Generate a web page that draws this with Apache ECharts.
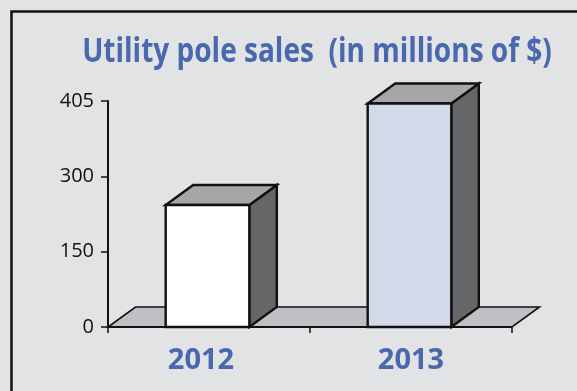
<!DOCTYPE html>
<html>
<head>
<meta charset="utf-8">
<title>Utility pole sales</title>
<script src="https://cdn.jsdelivr.net/npm/echarts@6/dist/echarts.min.js"></script>
<style>
  html, body { margin: 0; padding: 0; background: #e2e3e5; }
  #chart { width: 577px; height: 391px; }
</style>
</head>
<body>
<div id="chart"></div>
<script>
// Chart data
const titleText = 'Utility pole sales  (in millions of $)';
const categories = ['2012', '2013'];
const sales = [243, 445];
// Value-axis tick labels, one per 150 step from 0
const tickLabels = ['0', '150', '300', '405'];

// Styling
const BG = '#e2e3e5';
const BLUE = '#4a68ad';
const FRONT_COLORS = ['#ffffff', '#d3d9e8'];
const TOP_COLOR = '#a5a6a8';
const SIDE_COLOR = '#656667';
const FLOOR_COLOR = '#bfc0c3';
const EDGE = '#111111';
const DEPTH_X = 27.5;   // 3D depth offset (pixels)
const DEPTH_Y = -20;
const BAR_RATIO = 0.414; // front face width relative to the category band
const BAR_SHIFT = -1.5;
const LABEL_PAD_RIGHT = [16, 0]; // nudges individual category labels left

const chart = echarts.init(document.getElementById('chart'), null, { renderer: 'canvas' });

function renderFloor(params, api) {
  const cs = params.coordSys;
  const x0 = cs.x, x1 = cs.x + cs.width, y = cs.y + cs.height;
  return {
    type: 'polygon',
    shape: { points: [[x0, y], [x1, y], [x1 + DEPTH_X, y + DEPTH_Y], [x0 + DEPTH_X, y + DEPTH_Y]] },
    style: { fill: FLOOR_COLOR, stroke: EDGE, lineWidth: 1.6, lineJoin: 'miter' }
  };
}

function renderBar(params, api) {
  const idx = api.value(0);
  const val = api.value(1);
  const base = api.coord([idx, 0]);
  const top = api.coord([idx, val]);
  const band = api.size([1, 0])[0];
  const w = band * BAR_RATIO;
  const x0 = base[0] - w / 2 + BAR_SHIFT;
  const x1 = x0 + w;
  const yb = base[1];
  const yt = top[1];
  const edge = { stroke: EDGE, lineWidth: 2.4, lineJoin: 'miter' };
  return {
    type: 'group',
    children: [
      {
        type: 'polygon',
        shape: { points: [[x1, yb], [x1 + DEPTH_X, yb + DEPTH_Y], [x1 + DEPTH_X, yt + DEPTH_Y], [x1, yt]] },
        style: Object.assign({ fill: SIDE_COLOR }, edge)
      },
      {
        type: 'polygon',
        shape: { points: [[x0, yt], [x1, yt], [x1 + DEPTH_X, yt + DEPTH_Y], [x0 + DEPTH_X, yt + DEPTH_Y]] },
        style: Object.assign({ fill: TOP_COLOR }, edge)
      },
      {
        type: 'rect',
        shape: { x: x0, y: yt, width: w, height: yb - yt },
        style: Object.assign({ fill: FRONT_COLORS[idx % FRONT_COLORS.length] }, edge)
      }
    ]
  };
}

chart.setOption({
  backgroundColor: BG,
  animation: false,
  grid: { left: 108, top: 101, width: 404, height: 226, containLabel: false },
  xAxis: {
    type: 'category',
    data: categories.map(function (c, i) {
      return { value: c, textStyle: { padding: [0, LABEL_PAD_RIGHT[i], 0, 0] } };
    }),
    boundaryGap: true,
    z: 10,
    axisLine: { lineStyle: { color: EDGE, width: 2 } },
    axisTick: { show: true, length: 6, lineStyle: { color: EDGE, width: 1.5 } },
    axisLabel: {
      margin: 19,
      color: BLUE,
      fontFamily: 'Open Sans',
      fontWeight: 'bold',
      fontSize: 29
    }
  },
  yAxis: {
    type: 'value',
    min: 0,
    max: 450,
    interval: 150,
    z: 10,
    splitLine: { show: false },
    axisLine: { show: true, lineStyle: { color: EDGE, width: 2 } },
    axisTick: { show: true, length: 7, lineStyle: { color: EDGE, width: 1.5 } },
    axisLabel: {
      margin: 14,
      color: '#111111',
      fontFamily: 'Open Sans',
      fontSize: 20,
      formatter: function (v) { return tickLabels[Math.round(v / 150)]; }
    }
  },
  series: [
    {
      type: 'custom',
      name: 'floor',
      z: 1,
      silent: true,
      renderItem: renderFloor,
      data: [[0]]
    },
    {
      type: 'custom',
      name: 'sales',
      z: 2,
      renderItem: renderBar,
      encode: { x: 0, y: 1 },
      data: categories.map(function (c, i) { return [i, sales[i]]; })
    }
  ],
  graphic: [
    {
      type: 'rect',
      silent: true,
      shape: { x: 11.5, y: 11.5, width: 700, height: 500 },
      style: { fill: 'none', stroke: EDGE, lineWidth: 2.5 }
    },
    {
      type: 'text',
      silent: true,
      x: 317,
      y: 52,
      scaleX: 0.824,
      style: {
        text: titleText,
        fill: BLUE,
        font: 'bold 34px "Open Sans"',
        align: 'center',
        verticalAlign: 'middle'
      }
    }
  ]
});
</script>
</body>
</html>
